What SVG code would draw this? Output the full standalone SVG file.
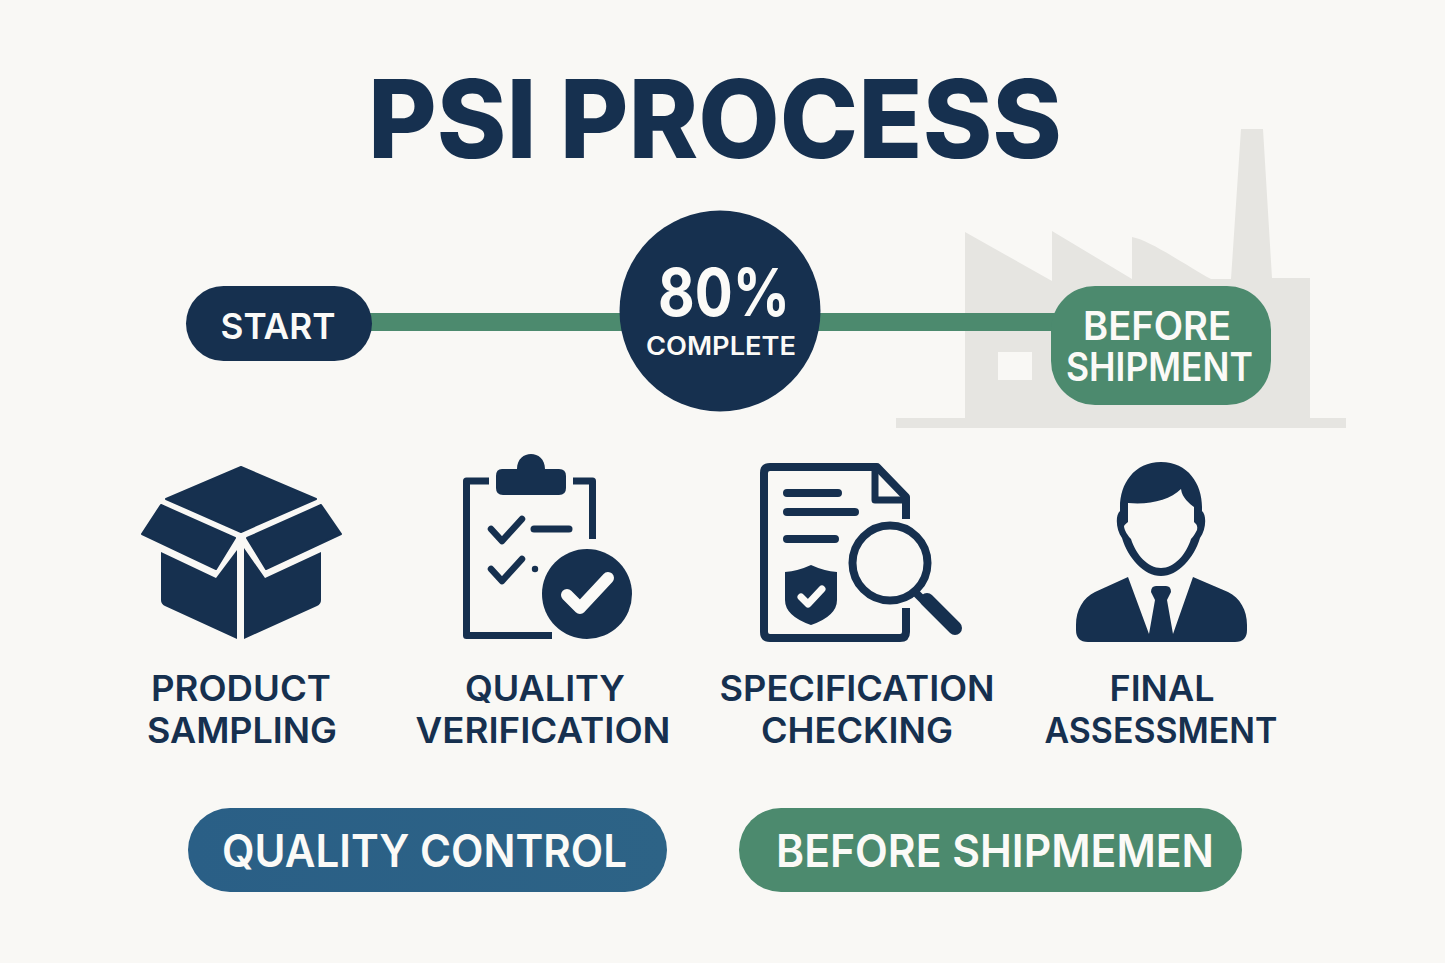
<svg xmlns="http://www.w3.org/2000/svg" width="1445" height="963" viewBox="0 0 1445 963">
<style>
text{font-family:Inter,"Liberation Sans",sans-serif;text-anchor:middle;font-weight:600}
.n{fill:#16304f}
.w{fill:#fbfaf7}
.l{font-size:35px;fill:#16304f;font-weight:600}
.o{fill:none;stroke:#16304f;stroke-linejoin:round}
.r{stroke-linecap:round}
.c{fill:none;stroke:#fbfaf7;stroke-linecap:round;stroke-linejoin:round}
</style>
<defs><linearGradient id="b" x1="0" x2="1" y1="0" y2="0"><stop offset="0" stop-color="#2a5f86"/><stop offset="1" stop-color="#2d6386"/></linearGradient></defs>
<rect width="1445" height="963" fill="#f9f8f5"/>
<text x="715" y="158" font-size="108" class="n" style="font-weight:800" textLength="694" lengthAdjust="spacingAndGlyphs">PSI PROCESS</text>
<g id="factory">
<path fill="#e6e5e1" d="M896 418H965V232L1052 281V231L1132 279V237C1150 240 1190 268 1211 279H1231L1241 129H1263L1272 278H1310V418H1346V428H896Z"/>
<rect x="998" y="352" width="34" height="28" fill="#f9f8f5"/>
</g>
<g id="connectors">
<rect x="360" y="313" width="700" height="18" fill="#4c8a6e"/>
</g>
<g id="start"><rect x="186" y="286" width="186" height="75" rx="37.5" class="n"/><text x="278" y="339" font-size="36" class="w" textLength="115" lengthAdjust="spacingAndGlyphs">START</text></g>
<g id="progress"><circle cx="720" cy="311" r="100.500" class="n"/><text x="724" y="316" font-size="66" class="w" style="font-weight:700" textLength="132" lengthAdjust="spacingAndGlyphs">80%</text><text x="721" y="355" font-size="25" class="w" textLength="150" lengthAdjust="spacingAndGlyphs">COMPLETE</text></g>
<g id="before-shipment"><rect x="1051" y="286" width="220" height="119" rx="44" fill="#4c8a6e"/><text x="1157" y="340" font-size="39" class="w" textLength="148" lengthAdjust="spacingAndGlyphs">BEFORE</text><text x="1159.500" y="381" font-size="39" class="w" textLength="187" lengthAdjust="spacingAndGlyphs">SHIPMENT</text></g>
<g id="product-sampling">
<path class="n" stroke="#16304f" stroke-width="2" stroke-linejoin="round" d="M241 467L316 499L241 532L166 499Z"/>
<path class="n" stroke="#16304f" stroke-width="2" stroke-linejoin="round" d="M161 505L235 538L216 569L142 534Z"/>
<path class="n" stroke="#16304f" stroke-width="2" stroke-linejoin="round" d="M321 505L341 534L266 569L247 538Z"/>
<path class="n" d="M161 552L216 578L237 550V639L165 606Q161 604 161 600Z"/>
<path class="n" d="M244 548L265 578L321 552V600Q321 604 317 606L244 639Z"/>
<text x="241" y="701" class="l" textLength="180" lengthAdjust="spacingAndGlyphs">PRODUCT</text><text x="242" y="743" class="l" textLength="190" lengthAdjust="spacingAndGlyphs">SAMPLING</text>
</g>
<g id="quality-verification">
<path class="o" stroke-width="7" d="M489 481H466.500V635.500H552"/>
<path class="o" stroke-width="7" d="M573 481H592.500V539"/>
<path class="n" d="M502 469H517C517 449 545 449 545 469H559Q566 469 566 476V488Q566 495 559 495H503Q496 495 496 488V476Q496 469 502 469Z"/>
<path class="o r" stroke-width="6.500" d="M491 529L502 541L522 519M491 569L502 581L522 559"/>
<path class="o r" stroke-width="7" d="M534 529H569"/>
<circle cx="535" cy="569" r="3.200" class="n"/>
<circle cx="587" cy="594" r="45" class="n"/>
<path class="c" stroke-width="12" d="M567 595L580 608L608 578"/>
<text x="545" y="701" class="l" textLength="160" lengthAdjust="spacingAndGlyphs">QUALITY</text><text x="543" y="743" class="l" textLength="255" lengthAdjust="spacingAndGlyphs">VERIFICATION</text>
</g>
<g id="specification-checking">
<path class="o" stroke-width="8" d="M906 519V497L877 467H770Q764 467 764 473V632Q764 638 770 638H900Q906 638 906 632V608"/>
<path class="o" stroke-width="7" d="M875 470V500H906"/>
<path class="o r" stroke-width="8" d="M787 493H838M787 512H855M787 539H835"/>
<path class="n" d="M785 572Q798 571 811 565Q824 571 837 572V600Q837 616 811 625Q785 616 785 600Z"/>
<path class="c" stroke-width="7" d="M801 597L808 604L822 589"/>
<circle cx="890" cy="563" r="37.500" fill="none" stroke="#16304f" stroke-width="8"/>
<path class="o" stroke-width="8" d="M915 592L925 602"/>
<path class="o r" stroke-width="14" d="M927 600L955 628"/>
<text x="857" y="701" class="l" textLength="275" lengthAdjust="spacingAndGlyphs">SPECIFICATION</text><text x="857" y="743" class="l" textLength="192" lengthAdjust="spacingAndGlyphs">CHECKING</text>
</g>
<g id="final-assessment">
<path class="n" d="M1161 462C1188 462 1202 484 1202 507V511C1207 515 1206 530 1200 538C1194 558 1178 576 1161 576C1144 576 1128 558 1122 538C1116 530 1115 515 1120 511V507C1120 484 1134 462 1161 462Z"/>
<path fill="#f9f8f5" d="M1128 503C1150 505 1170 500 1181 489C1182 498 1190 504 1194 507V522C1196 524 1198 525 1197 530C1195 534 1193 537 1191 539C1186 555 1174 568 1161 568C1148 568 1136 555 1131 539C1128 536 1124 530 1124 526C1125 524 1127 523 1128 522Z"/>
<path class="n" d="M1128 577L1149 634L1155 600L1151 592Q1151 586 1156 586H1166Q1171 586 1171 592L1167 600L1173 634L1193 577L1228 592C1240 598 1247 610 1247 625V630Q1247 642 1235 642H1088Q1076 642 1076 630V625C1076 610 1083 598 1095 592Z"/>
<text x="1162" y="701" class="l" textLength="105" lengthAdjust="spacingAndGlyphs">FINAL</text><text x="1161" y="743" class="l" textLength="233" lengthAdjust="spacingAndGlyphs">ASSESSMENT</text>
</g>
<g id="quality-control"><rect x="188" y="808" width="479" height="84" rx="42" fill="url(#b)"/><text x="424.500" y="867" font-size="45" class="w" textLength="405" lengthAdjust="spacingAndGlyphs">QUALITY CONTROL</text></g>
<g id="before-shipmemen"><rect x="739" y="808" width="503" height="84" rx="42" fill="#4c8a6e"/><text x="995" y="867" font-size="45" class="w" textLength="438" lengthAdjust="spacingAndGlyphs">BEFORE SHIPMEMEN</text></g>
</svg>
